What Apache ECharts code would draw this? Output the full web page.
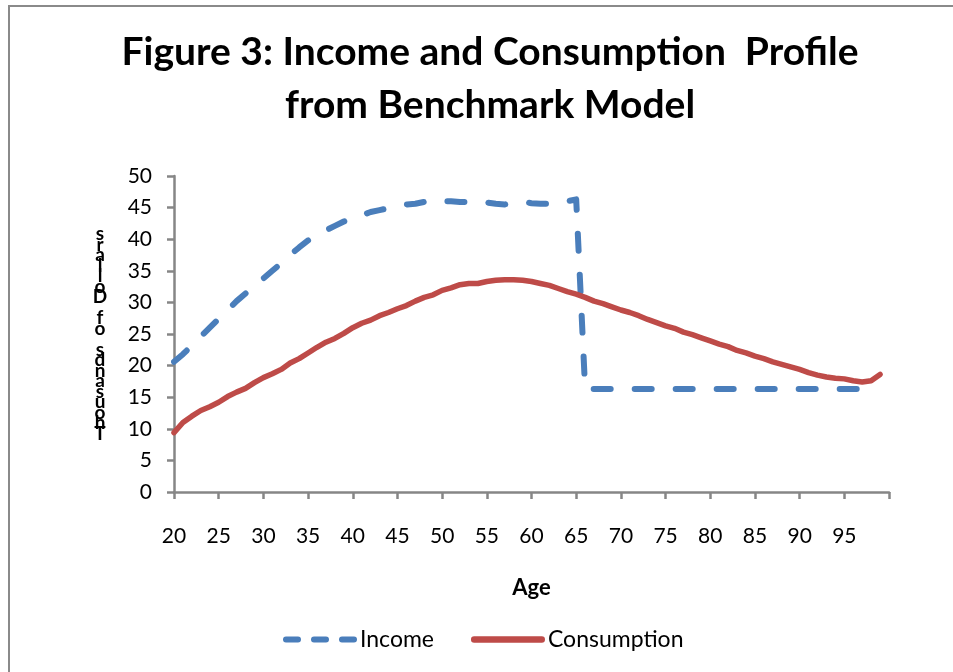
<!DOCTYPE html>
<html><head><meta charset="utf-8">
<script src="https://cdn.jsdelivr.net/npm/echarts@6/dist/echarts.min.js"></script>
<style>html,body{margin:0;padding:0;background:#fff}#c{width:953px;height:672px}</style>
</head><body><div id="c"></div>
<script>
var titleText = 'Figure 3: Income and Consumption  Profile\nfrom Benchmark Model';
var yAxisTitle = 'Thousands of Dollars';
var xAxisTitle = 'Age';
var ages = [];
for (var a = 20; a <= 99; a++) ages.push(a);
var income = [
20.6,21.8,23.2,24.6,26.0,27.4,28.8,30.2,31.4,32.6,
33.8,35.0,36.2,37.5,38.7,39.8,40.6,41.4,42.1,42.8,
43.3,43.8,44.3,44.6,44.9,45.2,45.5,45.6,45.9,46.2,
46.0,46.0,45.9,45.9,45.9,45.8,45.6,45.5,45.7,45.9,
45.7,45.6,45.6,45.7,46.0,46.3,16.3,16.3,16.3,16.3,
16.3,16.3,16.3,16.3,16.3,16.3,16.3,16.3,16.3,16.3,
16.3,16.3,16.3,16.3,16.3,16.3,16.3,16.3,16.3,16.3,
16.3,16.3,16.3,16.3,16.3,16.3,16.3,16.3,16.3,16.3];
var consumption = [
9.4,11.0,12.0,12.9,13.5,14.2,15.1,15.8,16.4,17.3,
18.1,18.7,19.4,20.4,21.1,22.0,22.9,23.7,24.3,25.1,
26.0,26.7,27.2,27.9,28.4,29.0,29.5,30.2,30.8,31.2,
31.9,32.3,32.8,33.0,33.0,33.3,33.5,33.6,33.6,33.5,
33.3,33.0,32.7,32.2,31.7,31.3,30.8,30.2,29.8,29.3,
28.8,28.4,27.9,27.3,26.8,26.3,25.9,25.3,24.9,24.4,
23.9,23.4,23.0,22.4,22.0,21.5,21.1,20.6,20.2,19.8,
19.4,18.9,18.5,18.2,18.0,17.9,17.6,17.4,17.6,18.6];

function pairs(vals){ return ages.map(function(a,i){ return [a, vals[i]]; }); }
var FONT = 'Lato, "Open Sans", sans-serif';
var dashIcon = 'path://M3,0h12a3,3 0 0 1 0,6h-12a3,3 0 0 1 0,-6z M31,0h12a3,3 0 0 1 0,6h-12a3,3 0 0 1 0,-6z M59,0h12a3,3 0 0 1 0,6h-12a3,3 0 0 1 0,-6z';
var solidIcon = 'path://M3,0h64a3,3 0 0 1 0,6h-64a3,3 0 0 1 0,-6z';
var chart = echarts.init(document.getElementById('c'), null, {renderer:'canvas'});
chart.setOption({
  animation: false,
  backgroundColor: '#fff',
  graphic: [{type:'rect', shape:{x:9, y:6, width:1000, height:1000}, style:{fill:'none', stroke:'#8a8a8a', lineWidth:2}, z:-1}],
  title: {text: titleText, left: 485, textAlign: 'center', top: 21,
    textStyle: {fontFamily: FONT, fontWeight: 'bold', fontSize: 39, lineHeight: 53, color: '#000'}},
  grid: {left: 174, right: 64, top: 176, bottom: 180, containLabel: false},
  xAxis: {type: 'value', min: 20, max: 100, interval: 5,
    name: xAxisTitle, nameLocation: 'middle', nameGap: 85,
    nameTextStyle: {fontFamily: FONT, fontWeight: 'bold', fontSize: 22, color: '#000'},
    axisLine: {lineStyle: {color: '#868686', width: 2.5}},
    axisTick: {show: true, length: 7, lineStyle: {color: '#868686', width: 2.5}},
    axisLabel: {margin: 34, fontFamily: FONT, fontSize: 21, color: '#000',
      formatter: function(v){ return v >= 100 ? '' : String(v); }},
    splitLine: {show: false}},
  yAxis: {type: 'value', min: 0, max: 50, interval: 5,
    name: yAxisTitle.split('').reverse().join('\n'), nameLocation: 'middle', nameGap: 74, nameRotate: 0,
    nameTextStyle: {fontFamily: FONT, fontWeight: 'bold', fontSize: 19, lineHeight: 10.5, color: '#000', align: 'center'},
    axisLine: {show: true, lineStyle: {color: '#868686', width: 2.5}},
    axisTick: {show: true, length: 7, lineStyle: {color: '#868686', width: 2.5}},
    axisLabel: {margin: 22, fontFamily: FONT, fontSize: 21, color: '#000'},
    splitLine: {show: false}},
  legend: {left: 278, top: 623, itemWidth: 74, itemHeight: 7, itemGap: 37,
    textStyle: {fontFamily: FONT, fontSize: 23, color: '#000', padding: [0,0,0,-2]},
    data: [{name:'Income', icon: dashIcon}, {name:'Consumption', icon: solidIcon}]},
  series: [
    {name: 'Income', type: 'line', data: pairs(income), showSymbol: false, symbol: 'none',
      lineStyle: {color: '#4A7EBB', width: 6, type: [17, 24], cap: 'round', join: 'round'},
      itemStyle: {color: '#4A7EBB'}},
    {name: 'Consumption', type: 'line', data: pairs(consumption), showSymbol: false, symbol: 'none',
      lineStyle: {color: '#BE4B48', width: 5.5, cap: 'round', join: 'round'},
      itemStyle: {color: '#BE4B48'}}
  ]
});
</script></body></html>
